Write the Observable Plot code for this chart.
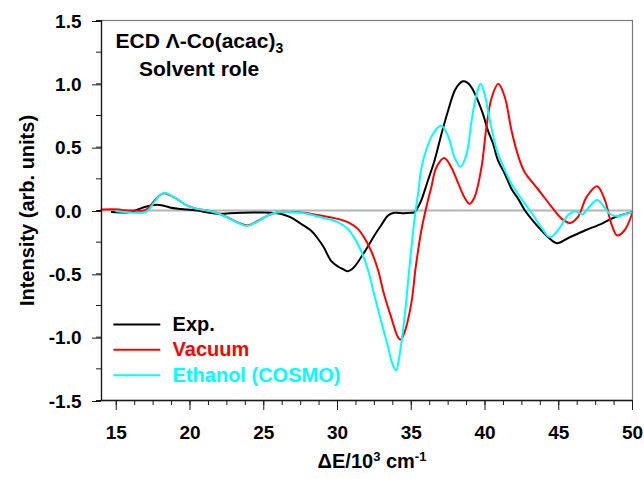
<!DOCTYPE html>
<html><head><meta charset="utf-8">
<script src="https://cdn.jsdelivr.net/npm/d3@7"></script>
<script src="https://cdn.jsdelivr.net/npm/@observablehq/plot@0.6"></script>
<style>body{margin:0;background:#fff} svg{display:block}</style>
</head><body><div id="chart"></div>
<script>
// Experimental ECD spectrum [ΔE/10^3 cm^-1, intensity]
const expData = [[14.7,-0.012],[15.5,-0.015],[16.0,-0.012],[16.4,0.005],[17.0,0.03],[17.75,0.045],[18.2,0.038],[18.63,0.024],[19.2,0.014],[19.8,0.008],[20.5,0.0],[21.0,-0.012],[21.56,-0.022],[22.2,-0.026],[22.7,-0.022],[23.5,-0.018],[24.4,-0.016],[25.0,-0.015],[25.46,-0.018],[26.13,-0.026],[26.8,-0.053],[27.5,-0.103],[28.2,-0.158],[28.66,-0.221],[29.07,-0.29],[29.55,-0.395],[30.03,-0.442],[30.4,-0.465],[30.7,-0.479],[31.1,-0.45],[31.6,-0.369],[32.1,-0.276],[32.5,-0.197],[32.95,-0.118],[33.43,-0.039],[33.84,-0.018],[34.5,-0.021],[35.0,-0.018],[35.2,-0.015],[35.47,0.03],[35.68,0.08],[36.13,0.237],[36.58,0.395],[37.04,0.6],[37.5,0.79],[37.95,0.947],[38.25,1.0],[38.5,1.02],[38.8,1.01],[39.08,0.973],[39.52,0.868],[39.86,0.763],[40.2,0.631],[40.55,0.526],[40.88,0.395],[41.34,0.29],[41.8,0.17],[42.26,0.09],[42.71,0.0],[43.17,-0.07],[43.85,-0.16],[44.32,-0.215],[44.86,-0.258],[45.68,-0.215],[46.77,-0.158],[47.93,-0.103],[48.8,-0.053],[49.97,-0.013]];
// Calculated, vacuum
const vacData = [[14,0.008],[15.2,0.008],[15.6,0.002],[16.2,0.0],[16.9,0.0],[17.14,0.015],[17.6,0.08],[18.0,0.125],[18.29,0.137],[18.7,0.118],[19.11,0.092],[19.79,0.04],[20.47,0.013],[21.16,0.0],[21.84,-0.02],[22.52,-0.053],[23.2,-0.092],[23.88,-0.118],[24.56,-0.085],[25.25,-0.04],[25.93,-0.013],[26.8,-0.012],[27.7,-0.018],[28.86,-0.04],[30.02,-0.066],[30.7,-0.092],[31.38,-0.145],[31.79,-0.21],[32.27,-0.316],[32.75,-0.47],[33.15,-0.66],[33.63,-0.84],[34.1,-1.0],[34.28,-1.02],[34.52,-0.97],[35.0,-0.735],[35.3,-0.45],[35.68,-0.16],[36.02,0.026],[36.36,0.184],[36.7,0.34],[37.24,0.415],[37.72,0.34],[38.2,0.21],[38.6,0.105],[38.95,0.053],[39.29,0.105],[39.76,0.34],[40.1,0.66],[40.45,0.89],[40.9,1.0],[41.33,0.9],[41.8,0.63],[42.28,0.42],[42.7,0.3],[43.3,0.21],[43.85,0.13],[44.53,0.026],[45.21,-0.066],[45.76,-0.098],[46.3,-0.05],[46.9,0.11],[47.6,0.192],[48.15,0.075],[48.55,-0.1],[48.96,-0.197],[49.45,-0.158],[49.97,-0.026]];
// Calculated, ethanol (COSMO)
const ethData = [[15,-0.005],[16,-0.015],[16.7,-0.02],[17.1,-0.005],[17.6,0.07],[18.0,0.125],[18.3,0.14],[18.7,0.12],[19.11,0.092],[19.79,0.04],[20.47,0.013],[21.16,0.0],[21.84,-0.02],[22.52,-0.055],[23.2,-0.095],[23.88,-0.122],[24.56,-0.088],[25.25,-0.04],[25.93,-0.013],[26.8,-0.012],[27.7,-0.022],[28.86,-0.053],[30.02,-0.092],[30.7,-0.145],[31.11,-0.21],[31.59,-0.316],[32.07,-0.47],[32.48,-0.66],[32.95,-0.87],[33.43,-1.08],[33.75,-1.22],[33.97,-1.263],[34.18,-1.16],[34.52,-0.87],[34.86,-0.47],[35.2,-0.09],[35.48,0.15],[35.68,0.33],[36.02,0.48],[36.5,0.61],[37.04,0.67],[37.52,0.58],[37.93,0.42],[38.34,0.345],[38.75,0.447],[39.09,0.71],[39.43,0.92],[39.7,1.0],[39.97,0.92],[40.31,0.72],[40.79,0.48],[41.27,0.34],[41.8,0.21],[42.48,0.09],[43.17,-0.02],[43.85,-0.14],[44.4,-0.21],[45.05,-0.14],[45.6,-0.04],[46.1,-0.005],[46.6,-0.03],[47.05,0.026],[47.6,0.082],[48.1,0.026],[48.45,-0.026],[48.96,-0.045],[49.5,-0.03],[50,-0.013]];

const seriesNames = ["Exp.", "Vacuum", "Ethanol (COSMO)"];
const seriesColors = ["#000000", "#ff0000", "#00ffff"];
const xMajorTicks = [15, 20, 25, 30, 35, 40, 45, 50];
const xMinorTicks = [15, 16.25, 17.5, 18.75, 20, 21.25, 22.5, 23.75, 25, 26.25, 27.5, 28.75, 30, 31.25, 32.5, 33.75, 35, 36.25, 37.5, 38.75, 40, 41.25, 42.5, 43.75, 45, 46.25, 47.5, 48.75, 50];
const yMajorTicks = [-1.5, -1.0, -0.5, 0.0, 0.5, 1.0, 1.5];
const yMinorTicks = [-1.5, -1.25, -1.0, -0.75, -0.5, -0.25, 0, 0.25, 0.5, 0.75, 1.0, 1.25, 1.5];
const titleText = "ECD Λ-Co(acac)";
const subtitleText = "Solvent role";
const xLabelText = "ΔE/10";
const yLabelText = "Intensity (arb. units)";

const font = "'Liberation Sans', Arial, Helvetica, sans-serif";
const tickFont = {fontSize: 19, fontWeight: "bold"};

const plot = Plot.plot({
  width: 644,
  height: 479,
  marginLeft: 101,
  marginRight: 12,
  marginTop: 20,
  marginBottom: 79,
  style: {fontFamily: font, color: "black", background: "white"},
  x: {domain: [14, 50]},
  y: {domain: [-1.5, 1.5]},
  color: {type: "identity"},
  marks: [
    Plot.ruleY([0], {stroke: "#b4b4b4", strokeWidth: 2}),
    Plot.line(expData, {x: d => d[0], y: d => d[1], stroke: seriesColors[0], strokeWidth: 2, curve: "catmull-rom"}),
    Plot.line(vacData, {x: d => d[0], y: d => d[1], stroke: seriesColors[1], strokeWidth: 2, curve: "catmull-rom"}),
    Plot.line(ethData, {x: d => d[0], y: d => d[1], stroke: seriesColors[2], strokeWidth: 2, curve: "catmull-rom"}),
    Plot.frame({stroke: "#7a7a7a", strokeWidth: 1.2}),
    Plot.ruleX([14], {stroke: "#1a1a1a", strokeWidth: 1.3}),
    Plot.ruleY([-1.5], {stroke: "#1a1a1a", strokeWidth: 1.3}),
    Plot.axisX({ticks: xMajorTicks, tickSize: 10, tickPadding: 15, tickFormat: d => String(d), label: null, stroke: "#1a1a1a", ...tickFont}),
    Plot.axisX({ticks: xMinorTicks, tickSize: 5, tickFormat: () => "", label: null, stroke: "#1a1a1a"}),
    Plot.axisY({ticks: yMajorTicks, tickSize: 9, tickPadding: 11, tickFormat: d => d.toFixed(1), label: null, stroke: "#1a1a1a", dy: 1, ...tickFont}),
    Plot.axisY({ticks: yMinorTicks, tickSize: 5, tickFormat: () => "", label: null, stroke: "#1a1a1a"}),
    // legend
    Plot.ruleY(seriesNames, {y: (d, i) => -0.9 - 0.2 * i, x1: 14.84, x2: 18.02, stroke: (d, i) => seriesColors[i], strokeWidth: 2}),
    Plot.text(seriesNames, {y: (d, i) => -0.9 - 0.2 * i, x: 18.82, text: d => d, fill: (d, i) => seriesColors[i], textAnchor: "start", fontSize: 20, fontWeight: "bold"}),
    // annotations
    Plot.text([titleText], {frameAnchor: "top-left", dx: 14, dy: 27.7, lineAnchor: "bottom", textAnchor: "start", fontSize: 21, fontWeight: "bold"}),
    Plot.text([subtitleText], {frameAnchor: "top-left", dx: 37.5, dy: 55.7, lineAnchor: "bottom", textAnchor: "start", fontSize: 21, fontWeight: "bold"}),
    Plot.text([xLabelText], {frameAnchor: "bottom", dx: 5, dy: 67.7, lineAnchor: "bottom", textAnchor: "middle", fontSize: 20, fontWeight: "bold"}),
    Plot.text([yLabelText], {frameAnchor: "left", dx: -68, rotate: -90, lineAnchor: "bottom", textAnchor: "middle", fontSize: 20, fontWeight: "bold"})
  ]
});

const svg = d3.select(plot);
svg.selectAll("text").filter(function() { return this.textContent === titleText; })
  .each(function() {
    d3.select(this).append("tspan").attr("dy", 5).attr("font-size", 14).text("3");
  });
svg.selectAll("text").filter(function() { return this.textContent === xLabelText; })
  .each(function() {
    const t = d3.select(this);
    t.append("tspan").attr("dy", -7).attr("font-size", 13).text("3");
    t.append("tspan").attr("dy", 7).attr("font-size", 20).text(" cm");
    t.append("tspan").attr("dy", -7).attr("font-size", 13).text("-1");
  });

document.getElementById("chart").appendChild(plot);
</script>
</body></html>
